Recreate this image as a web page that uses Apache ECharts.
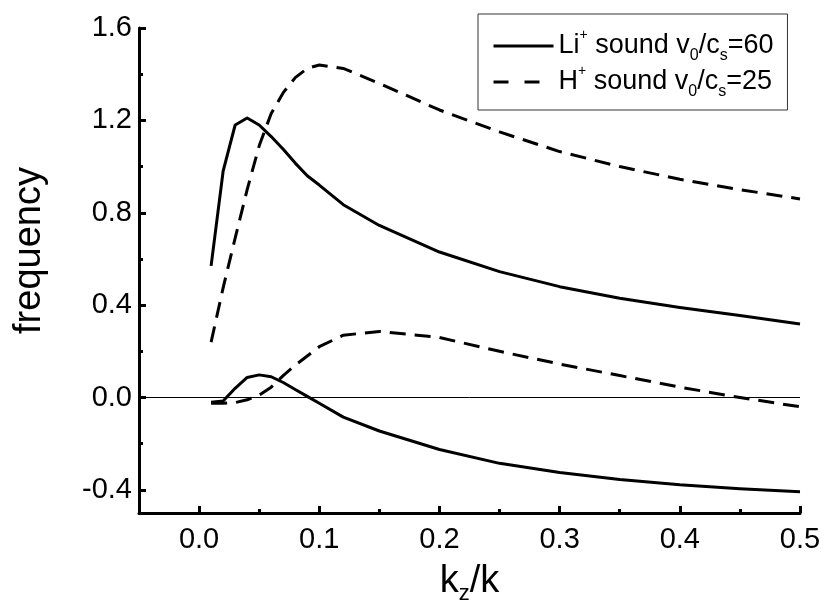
<!DOCTYPE html>
<html>
<head>
<meta charset="utf-8">
<script src="https://cdn.jsdelivr.net/npm/echarts@6/dist/echarts.min.js"></script>
<style>
html,body{margin:0;padding:0;background:#fff;}
#chart{width:825px;height:611px;}
</style>
</head>
<body>
<div id="chart"></div>
<script>
// ---- data ----
const kz = [0.01,0.02,0.03,0.04,0.05,0.06,0.07,0.08,0.09,0.1,0.12,0.15,0.2,0.25,0.3,0.35,0.4,0.45,0.5];
const liUpper = [0.57,0.98,1.18,1.21,1.18,1.13,1.075,1.015,0.96,0.92,0.835,0.745,0.63,0.545,0.48,0.43,0.39,0.355,0.318];
const liLower = [-0.02,-0.015,0.04,0.087,0.098,0.09,0.065,0.035,0.005,-0.025,-0.085,-0.145,-0.225,-0.285,-0.325,-0.355,-0.378,-0.395,-0.408];
const hUpper  = [0.24,0.475,0.69,0.90,1.09,1.23,1.32,1.385,1.425,1.44,1.425,1.36,1.245,1.15,1.065,1.0,0.945,0.9,0.86];
const hLower  = [-0.025,-0.025,-0.022,-0.01,0.01,0.045,0.095,0.14,0.18,0.22,0.27,0.286,0.26,0.2,0.145,0.095,0.045,0.0,-0.04];
const xMajor = [0,0.1,0.2,0.3,0.4,0.5];
const xMinor = [0.05,0.15,0.25,0.35,0.45];
const yMajor = [-0.4,0,0.4,0.8,1.2,1.6];
const yMinor = [-0.2,0.2,0.6,1.0,1.4];

const pair = (xs, ys) => xs.map((x, i) => [x, ys[i]]);
const FONT = '"Liberation Sans", Arial, sans-serif';

const chart = echarts.init(document.getElementById('chart'), null, {renderer: 'canvas'});
const lineW = 3;
const dashed = [16, 9];

const mkSeries = (name, ys, dash, withZero) => {
  const s = {
    name: name, type: 'line', data: pair(kz, ys), showSymbol: false, symbol: 'none',
    xAxisIndex: 0, yAxisIndex: 0,
    lineStyle: {color: '#000', width: lineW, type: dash ? dashed : 'solid', join: 'round'},
    itemStyle: {color: '#000'}, animation: false, z: 3
  };
  if (withZero) {
    s.markLine = {
      silent: true, symbol: 'none', label: {show: false}, animation: false,
      lineStyle: {color: '#000', width: 1, type: 'solid'},
      data: [{yAxis: 0}]
    };
  }
  return s;
};

const baseX = {
  type: 'value', min: -0.05, max: 0.5, position: 'bottom', splitLine: {show: false}
};
const baseY = {
  type: 'value', min: -0.5, max: 1.6, position: 'left', splitLine: {show: false}
};

const option = {
  backgroundColor: '#fff',
  animation: false,
  grid: {left: 139, right: 25, top: 28, bottom: 98, containLabel: false},
  xAxis: [
    Object.assign({}, baseX, {
      name: 'k{sub|z}/k', nameLocation: 'middle', nameGap: 46,
      nameTextStyle: {fontFamily: FONT, fontSize: 38, color: '#000', lineHeight: 46,
        rich: {sub: {fontFamily: FONT, fontSize: 22, color: '#000', verticalAlign: 'bottom', lineHeight: 2}}},
      axisLine: {show: true, onZero: false, lineStyle: {color: '#000', width: 3}},
      axisTick: {show: true, inside: true, length: 7, lineStyle: {color: '#000', width: 3}, customValues: xMajor},
      axisLabel: {show: true, customValues: xMajor, margin: 12, fontFamily: FONT, fontSize: 29, color: '#000',
        formatter: v => v.toFixed(1)}
    }),
    Object.assign({}, baseX, {
      axisLine: {show: false, onZero: false},
      axisTick: {show: true, inside: true, length: 4, lineStyle: {color: '#000', width: 3}, customValues: xMinor},
      axisLabel: {show: false}
    })
  ],
  yAxis: [
    Object.assign({}, baseY, {
      name: 'frequency', nameLocation: 'middle', nameRotate: 90, nameGap: 90,
      nameTextStyle: {fontFamily: FONT, fontSize: 38, color: '#000', padding: [0, 0, 0, 40]},
      axisLine: {show: true, onZero: false, lineStyle: {color: '#000', width: 3}},
      axisTick: {show: true, inside: true, length: 7, lineStyle: {color: '#000', width: 3}, customValues: yMajor},
      axisLabel: {show: true, customValues: yMajor, margin: 7, fontFamily: FONT, fontSize: 29, color: '#000',
        formatter: v => v.toFixed(1)}
    }),
    Object.assign({}, baseY, {
      axisLine: {show: false, onZero: false},
      axisTick: {show: true, inside: true, length: 4, lineStyle: {color: '#000', width: 3}, customValues: yMinor},
      axisLabel: {show: false}
    })
  ],
  legend: {
    show: true, orient: 'vertical', left: 478, top: 14,
    borderColor: '#333', borderWidth: 1, borderRadius: 0,
    padding: [14, 14, 10, 14], itemGap: 0, itemWidth: 60, itemHeight: 14,
    selectedMode: false,
    itemStyle: {opacity: 0},
    lineStyle: {width: 3, color: '#000'},
    data: [
      {name: 'Li'},
      {name: 'H', lineStyle: {type: [15, 16], width: 3}}
    ],
    formatter: function (name) {
      return name === 'Li'
        ? 'Li{sup|+} sound v{sub|0}/c{sub|s}=60'
        : 'H{sup|+} sound v{sub|0}/c{sub|s}=25';
    },
    textStyle: {
      fontFamily: FONT, fontSize: 27, color: '#000', lineHeight: 36,
      rich: {
        sup: {fontFamily: FONT, fontSize: 14, color: '#000', verticalAlign: 'top', lineHeight: 16},
        sub: {fontFamily: FONT, fontSize: 16, color: '#000', verticalAlign: 'bottom', lineHeight: 8}
      }
    }
  },
  series: [
    mkSeries('Li', liUpper, false, true),
    mkSeries('Li', liLower, false, false),
    mkSeries('H', hUpper, true, false),
    mkSeries('H', hLower, true, false)
  ]
};
chart.setOption(option);
</script>
</body>
</html>
